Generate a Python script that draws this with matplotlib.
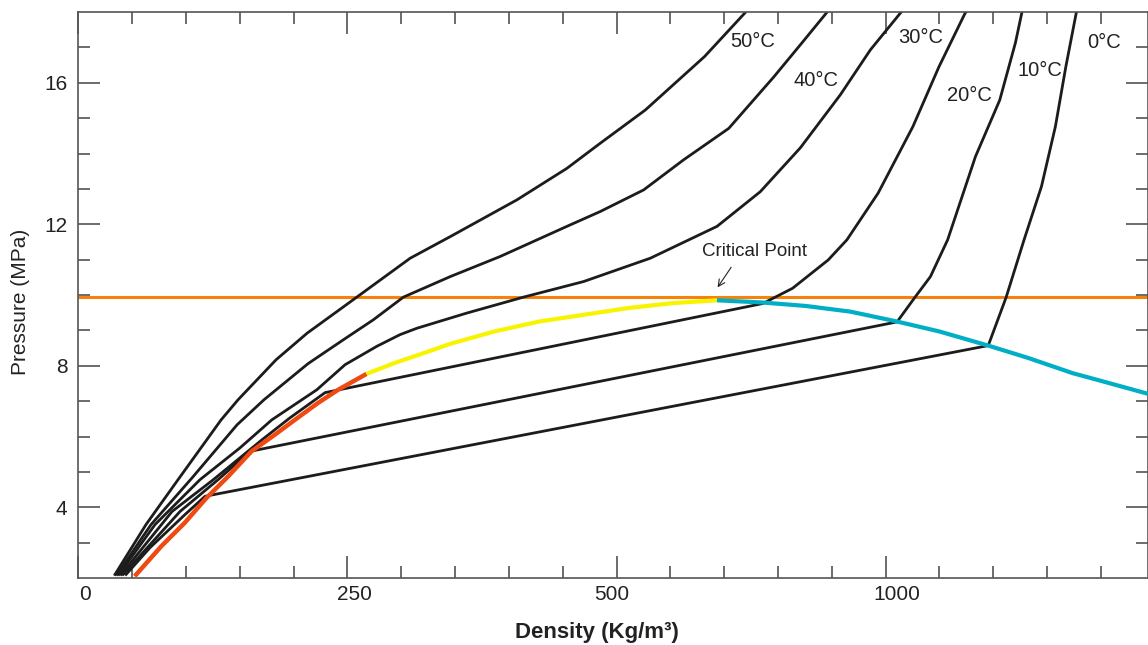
import numpy as np
import matplotlib
matplotlib.use("Agg")
import matplotlib.pyplot as plt
import matplotlib.transforms as mtransforms

plt.rcParams['font.family'] = ['Liberation Sans', 'DejaVu Sans']

# CO2 isotherms, density (kg/m3) vs pressure (MPa)
t50_rho = [34.0, 62.8, 92.6, 132.6, 148.4, 183.7, 212.5, 258.7, 308.3, 345.5, 407.5,
           453.9, 484.9, 553.6, 663.6, 737.8, 743.0]
t50_p = [2.10, 3.51, 4.78, 6.47, 7.04, 8.17, 8.92, 9.94, 11.04, 11.65, 12.69,
         13.58, 14.29, 15.23, 16.74, 17.96, 18.05]

t40_rho = [35.9, 67.5, 105.6, 147.4, 172.5, 213.4, 246.0, 274.1, 302.0, 345.5, 392.0,
           453.9, 484.9, 550.4, 624.6, 708.6, 792.6, 844.2, 889.4, 894.0]
t40_p = [2.10, 3.51, 4.83, 6.33, 7.04, 8.06, 8.73, 9.30, 9.94, 10.52, 11.09,
         11.94, 12.36, 12.97, 13.82, 14.71, 16.17, 17.12, 17.96, 18.05]

t30_rho = [37.7, 71.2, 113.0, 150.2, 179.7, 221.5, 247.8, 277.3, 298.9, 314.5, 361.0,
           413.6, 469.4, 562.8, 686.8, 767.2, 841.6, 916.0, 971.8, 1027.0, 1032.0]
t30_p = [2.10, 3.51, 4.78, 5.68, 6.47, 7.32, 8.03, 8.55, 8.88, 9.06, 9.49,
         9.94, 10.38, 11.04, 11.94, 12.92, 14.16, 15.66, 16.93, 17.96, 18.05]

t20_rho = [39.7, 87.0, 125.4, 170.7, 196.7, 229.2, 772.0, 827.2, 893.4, 928.2, 986.2,
           1050.8, 1099.2, 1147.6, 1152.0]
t20_p = [2.10, 3.88, 4.78, 5.91, 6.53, 7.24, 9.76, 10.19, 10.99, 11.56, 12.88,
         14.76, 16.45, 17.96, 18.05]

t10_rho = [41.5, 94.4, 129.8, 159.5, 1021.4, 1054.4, 1083.4, 1115.4, 1167.0, 1212.2,
           1241.2, 1253.0, 1254.5]
t10_p = [2.10, 3.88, 4.78, 5.58, 9.24, 9.93, 10.52, 11.56, 13.91, 15.51,
         17.12, 17.96, 18.05]

t0_rho = [44.3, 66.6, 100.0, 117.7, 1190.8, 1224.0, 1257.4, 1289.8, 1315.6, 1335.0,
          1354.2, 1356.0]
t0_p = [2.10, 2.86, 3.82, 4.31, 8.57, 9.93, 11.56, 13.07, 14.76, 16.45, 17.96, 18.05]

# saturation curve: vapour side (red / yellow) and liquid side (cyan)
vap_rho = [52.3, 77.1, 98.8, 118.9, 139.1, 160.8, 182.5, 201.1, 222.7, 241.3, 267.7]
vap_p = [2.05, 2.90, 3.56, 4.26, 4.87, 5.58, 6.05, 6.47, 6.95, 7.32, 7.77]

vap_hi_rho = [267.7, 294.0, 325.0, 345.5, 386.7, 428.1, 469.4, 521.4, 604.0, 686.8]
vap_hi_p = [7.77, 8.08, 8.40, 8.62, 8.97, 9.25, 9.44, 9.63, 9.77, 9.85]

liq_rho = [686.8, 769.4, 852.0, 934.6, 1021.4, 1099.8, 1190.8, 1265.2, 1347.8, 1389.0, 1487.0]
liq_p = [9.85, 9.79, 9.69, 9.53, 9.25, 8.97, 8.57, 8.22, 7.79, 7.62, 7.21]

crit_pressure = 9.94

iso_names = ['50°C', '40°C', '30°C', '20°C', '10°C', '0°C']
iso_rho = [t50_rho, t40_rho, t30_rho, t20_rho, t10_rho, t0_rho]
iso_p = [t50_p, t40_p, t30_p, t20_p, t10_p, t0_p]
label_xy = [(754, 17.18), (870, 16.06), (1065, 17.27), (1156, 15.63), (1286, 16.36), (1407, 17.15)]

x_major = [0, 250, 500, 1000]
x_minor = [50, 100, 150, 200, 300, 350, 400, 450, 600, 700, 800, 900, 1100, 1200, 1300, 1400]
x_label_shift = [7, 7, -5, 11]  # px, labels in the original are not centred on ticks


# the density axis is squeezed by two above 500
def fwd(x):
    x = np.asarray(x, dtype=float)
    return np.where(x <= 500, x, 500 + (x - 500) / 2.0)


def inv(y):
    y = np.asarray(y, dtype=float)
    return np.where(y <= 500, y, 500 + (y - 500) * 2.0)


W, H = 1148, 645
fig = plt.figure(figsize=(W / 100, H / 100), dpi=100)
ax = fig.add_axes([78.4 / W, 1 - 578 / H, (1147.5 - 78.4) / W, 566 / H])
ax.set_xscale('function', functions=(fwd, inv))
ax.set_xlim(0, 1486.8)
ax.set_ylim(2, 18)

ax.axhline(crit_pressure, color='#F5820A', lw=2.2, zorder=1)

for rho, p in zip(iso_rho, iso_p):
    ax.plot(rho, p, color='#1c1c1c', lw=2.0, zorder=2, solid_joinstyle='round')

ax.plot(vap_rho, vap_p, color='#EE4A12', lw=3.2, zorder=3, solid_capstyle='butt')
ax.plot(vap_hi_rho, vap_hi_p, color='#F8F400', lw=3.0, zorder=3, solid_capstyle='butt')
ax.plot(liq_rho, liq_p, color='#00AFC6', lw=3.0, zorder=3, solid_capstyle='butt')

for name, (lx, ly) in zip(iso_names, label_xy):
    ax.text(lx, ly, name, ha='center', va='center', fontsize=14.5, color='#222222')

ax.text(756, 11.23, 'Critical Point', ha='center', va='center', fontsize=13.5, color='#222222')
ax.annotate('', xy=(685, 10.15), xytext=(716, 10.85),
            arrowprops=dict(arrowstyle='->', color='#222222', lw=0.8, mutation_scale=12))

ax.set_xticks(x_major)
ax.set_xticklabels([str(v) for v in x_major])
ax.set_xticks(x_minor, minor=True)
ax.set_yticks([4, 8, 12, 16])
ax.set_yticks(range(3, 18), minor=True)

ax.tick_params(which='both', direction='in', top=True, right=True,
               color='#444444', width=1.1, labelsize=15, labelcolor='#222222')
ax.tick_params(which='major', length=16)
ax.tick_params(which='minor', length=8.3)
ax.tick_params(axis='x', pad=5)
ax.tick_params(axis='y', pad=8)

for lab, dx in zip(ax.get_xticklabels(), x_label_shift):
    lab.set_transform(lab.get_transform() +
                      mtransforms.ScaledTranslation(dx / 100, 0, fig.dpi_scale_trans))

for s in ax.spines.values():
    s.set_color('#555555')
    s.set_linewidth(1.2)

ax.set_xlabel('Density (Kg/m³)', fontsize=16, fontweight='bold', color='#222222')
ax.xaxis.set_label_coords(0.485, -0.078)
ax.set_ylabel('Pressure (MPa)', fontsize=15, color='#222222')
ax.yaxis.set_label_coords(-0.045, 0.488)

fig.savefig('out.png', dpi=100)
